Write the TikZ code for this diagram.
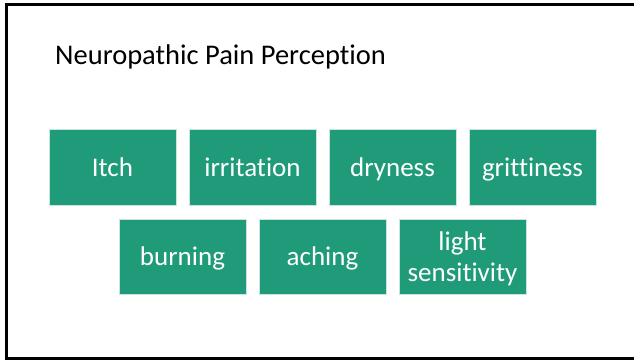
\documentclass[tikz,border=0pt]{standalone}
\usepackage{fontspec}
\setmainfont{Carlito}[Ligatures=NoCommon]
\usetikzlibrary{positioning}
\definecolor{tealbox}{RGB}{31,155,121}
\begin{document}
\begin{tikzpicture}[
  x=1pt, y=-1pt,
  box/.style={draw=white!75!tealbox,line width=0.6pt,fill=tealbox,text=white,align=center,
    minimum width=127pt,minimum height=76pt,inner sep=0pt,text height=20pt,text depth=2pt,
    font=\fontsize{27}{31}\selectfont},
  frame/.style={line width=3pt,draw=black},
]
\useasboundingbox (0,0) rectangle (634,360);
% slide frame
\draw[frame] (634,4.5) -- (6,4.5) -- (6,358.5) -- (634,358.5);
% title
\node[anchor=base west,inner sep=0pt,font=\fontsize{28.5}{28.5}\selectfont] (title) at (55,64) {Neuropathic Pain Perception};
% first row
\foreach \n/\lab/\x in {1/Itch/112.5, 2/irritation/252.5, 3/dryness/392.5, 4/grittiness/532.5}{
  \node[box] (r\n) at (\x,167) {\lab};
}
% second row
\foreach \n/\lab/\x/\th in {5/burning/182.5/20pt, 6/aching/322.5/20pt, 7/{light\\sensitivity}/462.5/51pt}{
  \node[box,minimum height=75pt,text height=\th] (r\n) at (\x,256.5) {\lab};
}
\end{tikzpicture}
\end{document}
